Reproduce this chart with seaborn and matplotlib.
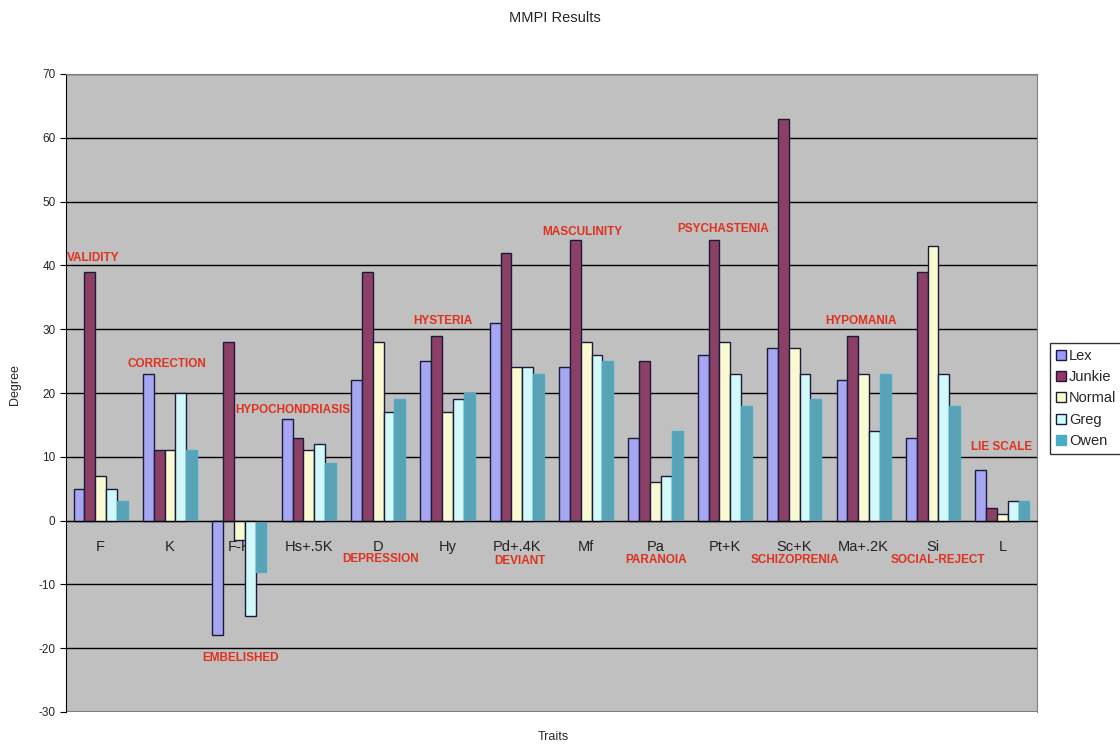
import pandas as pd
import seaborn as sns
import matplotlib.pyplot as plt
from matplotlib.patches import Patch

traits = ["F", "K", "F-K", "Hs+.5K", "D", "Hy", "Pd+.4K", "Mf", "Pa", "Pt+K", "Sc+K", "Ma+.2K", "Si", "L"]
people = ["Lex", "Junkie", "Normal", "Greg", "Owen"]

lex = [5, 23, -18, 16, 22, 25, 31, 24, 13, 26, 27, 22, 13, 8]
junkie = [39, 11, 28, 13, 39, 29, 42, 44, 25, 44, 63, 29, 39, 2]
normal = [7, 11, -3, 11, 28, 17, 24, 28, 6, 28, 27, 23, 43, 1]
greg = [5, 20, -15, 12, 17, 19, 24, 26, 7, 23, 23, 14, 23, 3]
owen = [3, 11, -8, 9, 19, 20, 23, 25, 14, 18, 19, 23, 18, 3]

scale_names = ["VALIDITY", "CORRECTION", "EMBELISHED", "HYPOCHONDRIASIS", "DEPRESSION", "HYSTERIA",
               "DEVIANT", "MASCULINITY", "PARANOIA", "PSYCHASTENIA", "SCHIZOPRENIA", "HYPOMANIA",
               "SOCIAL-REJECT", "LIE SCALE"]
# where each red label sits (x in category units, y in degrees)
label_pos = [(-0.49, 41.2), (0.39, 24.6), (1.47, -21.6), (1.94, 17.4), (3.48, -6.0), (4.5, 31.3),
             (5.67, -6.4), (6.37, 45.3), (7.57, -6.1), (8.32, 45.7), (9.37, -6.1), (10.44, 31.3),
             (11.39, -6.1), (12.55, 11.6)]

colors = ["#9999FF", "#993366", "#FFFFCC", "#CCFFFF", "#4BACC6"]

df = pd.DataFrame({"Lex": lex, "Junkie": junkie, "Normal": normal, "Greg": greg, "Owen": owen, "trait": traits})
df = df.melt(id_vars="trait", var_name="person", value_name="degree")

sns.set_style("white")
plt.rcParams["font.family"] = ["Liberation Sans", "DejaVu Sans"]
plt.rcParams["axes.unicode_minus"] = False

fig = plt.figure(figsize=(11.2, 7.46), dpi=100)
ax = fig.add_axes([66 / 1120, 34 / 746, 971 / 1120, 638 / 746])
ax.set_facecolor("#C0C0C0")

sns.barplot(data=df, x="trait", y="degree", hue="person", hue_order=people, order=traits,
            palette=colors, width=0.78, edgecolor="#1a1a3a", linewidth=1.0, ax=ax, legend=False)

# Owen bars have no outline
for bar in ax.containers[4]:
    bar.set_edgecolor(colors[4])

ax.set_ylim(-30, 70)
ax.set_xlim(-0.5, len(traits) - 0.5)
ax.set_yticks(range(-30, 71, 10))
ax.yaxis.grid(True, color="black", linewidth=1.0)
ax.set_axisbelow(True)

ax.spines["bottom"].set_position(("data", 0))
ax.spines["bottom"].set_color("black")
ax.spines["left"].set_color("black")
for s in ["top", "right"]:
    ax.spines[s].set_color("#808080")
ax.axhline(-30, color="#808080", linewidth=1.5)

ax.set_xticks(range(len(traits)))
ax.set_xticklabels(traits, fontsize=10.5, color="#222222")
ax.set_xticks([i + 0.5 for i in range(len(traits) - 1)], minor=True)
ax.tick_params(axis="x", which="major", length=0, pad=14)
ax.tick_params(axis="x", which="minor", length=4, color="black", direction="out")
ax.tick_params(axis="y", length=4, color="black", labelsize=8.5, left=True, direction="out")

ax.set_xlabel("")
ax.set_ylabel("")
fig.text(553 / 1120, 1 - 737 / 746, "Traits", ha="center", va="center", fontsize=9)
fig.text(15 / 1120, 1 - 385 / 746, "Degree", ha="center", va="center", rotation=90, fontsize=9)
fig.text(555 / 1120, 1 - 18 / 746, "MMPI Results", ha="center", va="center", fontsize=10.5)

for name, (x, y) in zip(scale_names, label_pos):
    ax.text(x, y, name, color="#E0301E", fontsize=8.5, fontweight="bold", ha="left", va="center")

handles = [Patch(facecolor=c, edgecolor=("#1a1a3a" if p != "Owen" else c), label=p)
           for p, c in zip(people, colors)]
fig.legend(handles=handles, loc="upper left", bbox_to_anchor=(1050 / 1120, 1 - 343 / 746),
           frameon=True, fancybox=False, edgecolor="black", fontsize=10.5, handlelength=0.7,
           handleheight=0.7, handletextpad=0.2, labelspacing=0.5, borderpad=0.4, borderaxespad=0)

fig.savefig("out.png", dpi=100)
